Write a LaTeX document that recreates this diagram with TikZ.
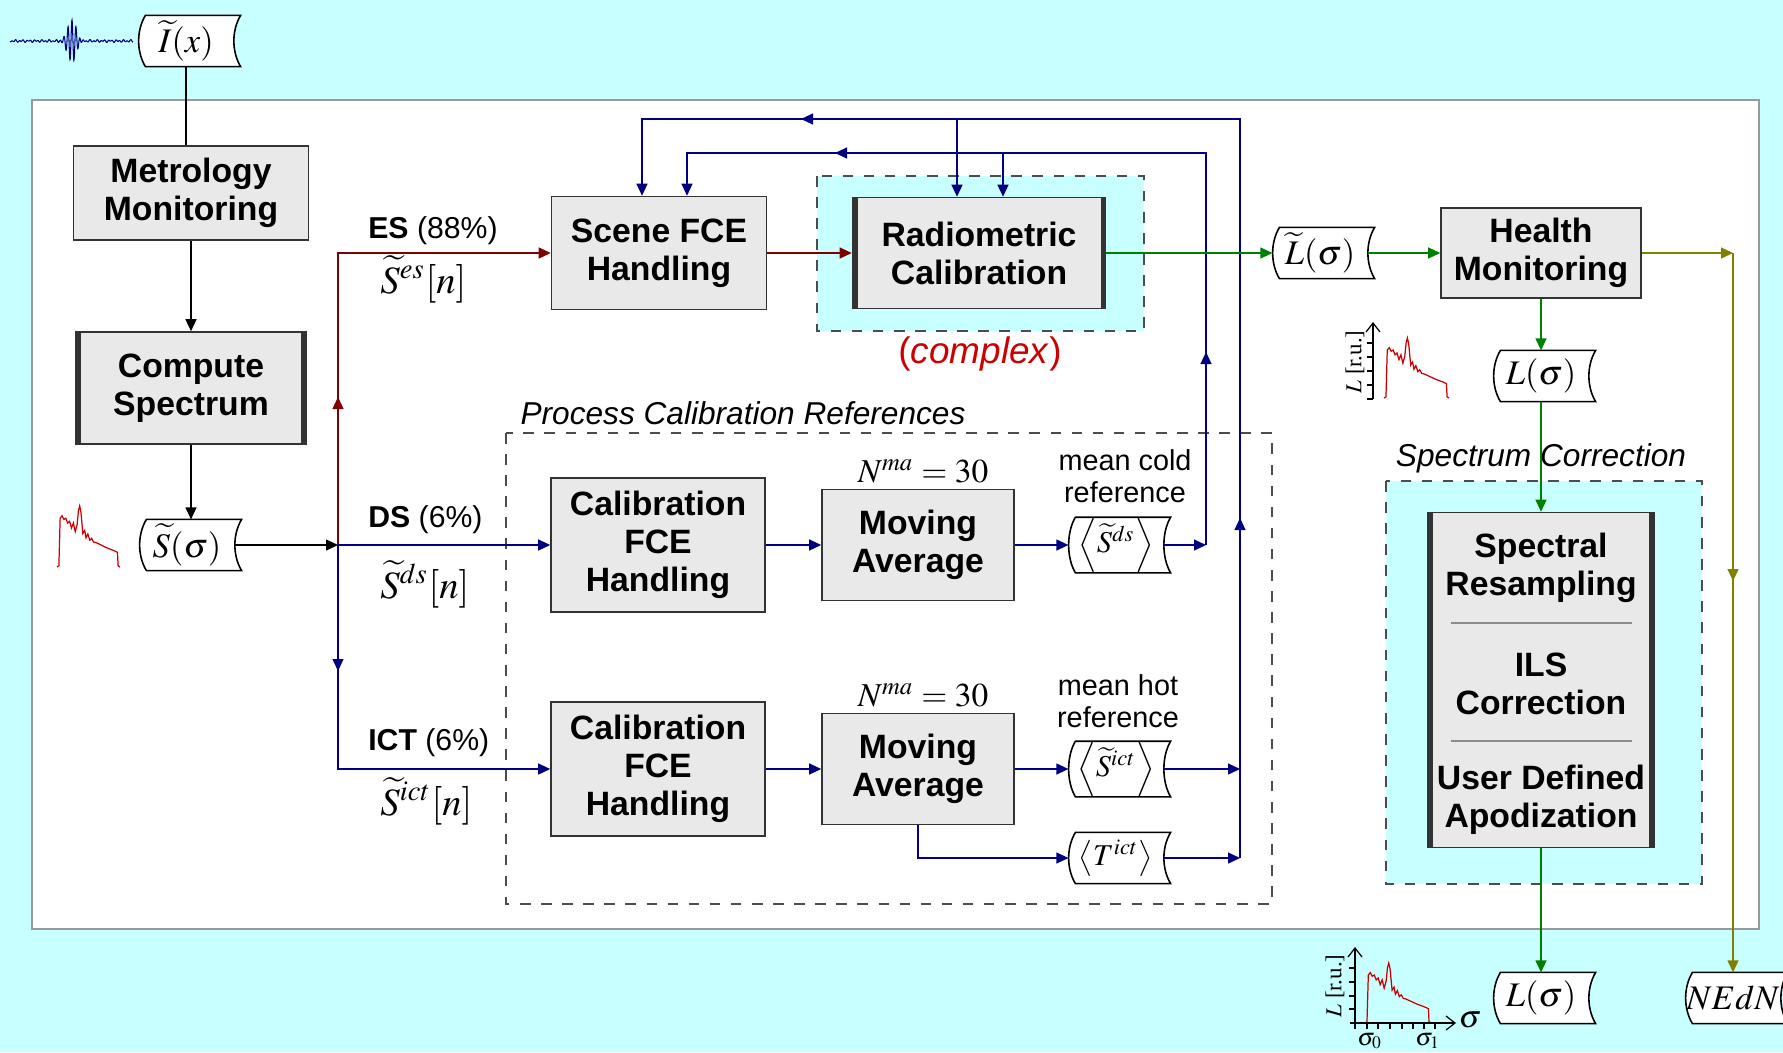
\documentclass[tikz,border=0pt]{standalone}
\usepackage{mathptmx}
\usepackage[no-math]{fontspec}
\setmainfont{Liberation Sans}
\newfontfamily\tnr{Liberation Serif}
\usetikzlibrary{arrows.meta, calc, backgrounds, decorations.markings}
\definecolor{cbg}{HTML}{C8FFFF}
\definecolor{cbox}{HTML}{E9E9E9}
\definecolor{cred}{HTML}{800000}
\definecolor{cblue}{HTML}{000080}
\definecolor{cgreen}{HTML}{008000}
\definecolor{colive}{HTML}{808000}
\definecolor{cspec}{HTML}{CC0000}
\tikzset{
  every picture/.style={x=0.1mm, y=-0.1mm, line width=0.35pt},
  box/.style={draw=black!80, fill=cbox, line width=0.45pt, align=center, inner sep=0pt, font=\fontsize{9.6}{10.8}\selectfont\bfseries},
  heavy/.style={box, path picture={\draw[line width=1mm] (path picture bounding box.north west) -- (path picture bounding box.south west) (path picture bounding box.north east) -- (path picture bounding box.south east);}},
  store/.style={inner sep=0pt, minimum width=9.4mm, minimum height=5mm, font=\fontsize{9.8}{11}\selectfont},
  mean/.style={store, font=\fontsize{8.6}{10}\selectfont},
  grp/.style={draw=black!70, dashed, line width=0.4pt},
  arr/.style={-{Triangle[length=1.2mm, width=1.1mm]}},
  wire/.style={color=#1, arr},
  midarrow/.style={postaction={decorate, decoration={markings, mark=at position #1 with {\arrow{Triangle[length=1.2mm, width=1.1mm]}}}}},
  lbl/.style={font=\fontsize{8.6}{10}\selectfont},
  mlbl/.style={font=\fontsize{11}{13}\selectfont},
  note/.style={font=\fontsize{8.2}{9.1}\selectfont, align=center},
  heading/.style={font=\fontsize{9}{11}\selectfont\itshape},
  specline/.style={draw=cspec, line width=0.35pt},
  axis/.style={line width=0.35pt},
}

\begin{document}
\begin{tikzpicture}
  \useasboundingbox (0,0) rectangle (1783,1052);
  % stored data shape: #1 name, #2 position, #3 content, optional style
  \newcommand{\store}[4][store]{%
    \node[#1] (#2) at (#3) {#4};
    \begin{scope}[on background layer]
      \draw[fill=white, line width=0.45pt] ($(#2.north west)+(7,0)$) -- ($(#2.north east)+(7,0)$)
        .. controls ($(#2.north east)+(-2,15)$) and ($(#2.south east)+(-2,-15)$) .. ($(#2.south east)+(7,0)$)
        -- ($(#2.south west)+(7,0)$)
        .. controls ($(#2.south west)+(-2,-15)$) and ($(#2.north west)+(-2,15)$) .. cycle;
    \end{scope}
  }
  % small red spectrum: #1 origin, #2 width, #3 height
  \newcommand{\spectrum}[3]{%
    \draw[specline, shift={(#1)}, xscale=#2, yscale=-#3] plot coordinates {(0,0) (0.03,0.02) (0.05,0.8) (0.08,0.84) (0.11,0.78) (0.14,0.8) (0.17,0.72) (0.2,0.75) (0.23,0.64) (0.26,0.72) (0.29,0.58) (0.32,0.7) (0.34,0.92) (0.36,1) (0.38,0.9) (0.41,0.55) (0.44,0.6) (0.46,0.48) (0.49,0.54) (0.52,0.44) (0.55,0.47) (0.58,0.41) (0.62,0.4) (0.7,0.36) (0.8,0.31) (0.9,0.27) (0.96,0.24) (0.97,0.02) (1,0)};
  }

  \begin{scope}[on background layer]
    \fill[cbg] (0,0) rectangle (1783,1052);
    \draw[draw=black!40, fill=white] (32,100) rectangle (1759,929);
    \draw[grp, fill=cbg] (817,176) rectangle (1144,331);
    \draw[grp, fill=cbg] (1386,481) rectangle (1702,884);
    \draw[grp] (506,433) rectangle (1272,904);
  \end{scope}

  % processing blocks
  \node[box, minimum width=23.5mm, minimum height=9.4mm] (metro) at (191,193) {Metrology\\Monitoring};
  \node[heavy, minimum width=23mm, minimum height=11.2mm] (comp) at (191,388) {Compute\\Spectrum};
  \node[box, minimum width=21.5mm, minimum height=11.3mm] (scene) at (659,253) {Scene FCE\\Handling};
  \node[heavy, minimum width=25.3mm, minimum height=11.1mm] (radio) at (979,253) {Radiometric\\Calibration};
  \node[box, minimum width=21.4mm, minimum height=13.4mm] (cfce1) at (658,545) {Calibration\\FCE\\Handling};
  \node[box, minimum width=19.2mm, minimum height=11.1mm] (ma1) at (918,545) {Moving\\Average};
  \node[box, minimum width=21.4mm, minimum height=13.4mm] (cfce2) at (658,769) {Calibration\\FCE\\Handling};
  \node[box, minimum width=19.2mm, minimum height=11.1mm] (ma2) at (918,769) {Moving\\Average};
  \node[box, minimum width=20mm, minimum height=9mm] (hm) at (1541,253) {Health\\Monitoring};
  \node[heavy, minimum width=22.6mm, minimum height=33.5mm] (corr) at (1541,680) {};
  \node[box, draw=none, fill=none] (resamp) at (1541,568) {Spectral\\Resampling};
  \node[box, draw=none, fill=none] (ils) at (1541,684) {ILS\\Correction};
  \node[box, draw=none, fill=none] (apod) at (1541,800) {User Defined\\Apodization};
  \foreach \y in {623,741}
    \draw[black!45, line width=0.5pt] (1451,\y) -- (1632,\y);

  % data products
  \store{itx}{186,41}{$\widetilde{I}(x)$}
  \store{ssig}{187,545}{$\widetilde{S}(\sigma)$}
  \store[mean]{sds}{1116,545}{$\left\langle\widetilde{S}^{ds}\right\rangle$}
  \store[mean]{sict}{1116,769}{$\left\langle\widetilde{S}^{ict}\right\rangle$}
  \store[mean]{tict}{1116,858}{$\left\langle T^{ict}\right\rangle$}
  \store{ltil}{1320,253}{$\widetilde{L}(\sigma)$}
  \store{lsig}{1541,376}{$L(\sigma)$}
  \store{lout}{1541,998}{$L(\sigma)$}
  \store{nedn}{1733,998}{$NEdN$}

  % texts
  \node[lbl, anchor=west] (esl) at (356,231) {\textbf{ES} (88\%)};
  \node[mlbl, anchor=base west] (esn) at (368,293) {$\widetilde{S}^{es}[n]$};
  \node[lbl, anchor=west] (dsl) at (356,520) {\textbf{DS} (6\%)};
  \node[mlbl, anchor=base west] (dsn) at (368,598) {$\widetilde{S}^{ds}[n]$};
  \node[lbl, anchor=west] (ictl) at (356,743) {\textbf{ICT} (6\%)};
  \node[mlbl, anchor=base west] (ictn) at (368,815) {$\widetilde{S}^{ict}[n]$};
  \node[font=\fontsize{9.5}{11}\selectfont] (nma1) at (923,471) {$N^{ma}=30$};
  \node[font=\fontsize{9.5}{11}\selectfont] (nma2) at (923,695) {$N^{ma}=30$};
  \node[note] (cold) at (1125,476) {mean cold\\reference};
  \node[note] (hot) at (1118,701) {mean hot\\reference};
  \node[font=\fontsize{10.5}{12}\selectfont, text=cspec] (cplx) at (980,354) {(\textit{complex})};
  \node[heading] (pcr) at (743,413) {Process Calibration References};
  \node[heading] (scl) at (1541,458) {Spectrum Correction};

  % turning points
  \coordinate (junc) at (338,545);
  \coordinate (inner) at (1206,153);
  \coordinate (outer) at (1240,119);
  \coordinate (sin) at ($(scene.north)+(28,0)$);
  \coordinate (sout) at ($(scene.north)+(-17,0)$);
  \coordinate (rin) at ($(radio.north)+(24,0)$);
  \coordinate (rout) at ($(radio.north)+(-22,0)$);
  \coordinate (nturn) at (hm.east -| nedn.north);

  % signal chain
  \draw (itx.south) -- (itx.south |- metro.north);
  \draw[wire=black] (metro.south) -- (comp.north);
  \draw[wire=black] (comp.south) -- (comp.south |- ssig.north);
  \draw[wire=black] (ssig.east) -- (junc);
  \draw[wire=cred, midarrow=14.8mm] (junc) |- (scene.west);
  \draw[wire=cred] (scene.east) -- (radio.west);
  \draw[wire=cblue] (junc) -- (cfce1.west);
  \draw[wire=cblue, midarrow=12.6mm] (junc) |- (cfce2.west);
  \draw[wire=cblue] (cfce1.east) -- (ma1.west);
  \draw[wire=cblue] (ma1.east) -- (sds.west);
  \draw[wire=cblue] (cfce2.east) -- (ma2.west);
  \draw[wire=cblue] (ma2.east) -- (sict.west);
  \draw[wire=cblue] (ma2.south) |- (tict.west);
  % calibration feedback
  \draw[wire=cblue] (sds.east) -- (sds.east -| inner);
  \draw[wire=cblue, midarrow=19.3mm, midarrow=76.3mm] (sds.east -| inner) -- (inner) -| (sin);
  \draw[wire=cblue] (rin |- inner) -- (rin);
  \draw[wire=cblue] (sict.east) -- (sict.east -| outer);
  \draw[wire=cblue] (tict.east) -- (tict.east -| outer);
  \draw[wire=cblue, midarrow=34mm, midarrow=117.8mm] (tict.east -| outer) -- (outer) -| (sout);
  \draw[wire=cblue] (rout |- outer) -- (rout);
  % outputs
  \draw[wire=cgreen] (radio.east) -- (ltil.west);
  \draw[wire=cgreen] (ltil.east) -- (hm.west);
  \draw[wire=cgreen] (hm.south) -- (lsig.north);
  \draw[wire=cgreen] (lsig.south) -- (corr.north);
  \draw[wire=cgreen] (corr.south) -- (lout.north);
  \draw[wire=colive] (hm.east) -- (nturn);
  \draw[wire=colive, midarrow=32.8mm] (nturn) -- (nedn.north);

  % interferogram
  \draw[cblue, line width=0.3pt] plot[domain=10:133, samples=600]
    (\x, {41 - 21*exp(-((\x-72)/6)*((\x-72)/6))*cos(\x*90) - 0.8*sin(\x*97) - 0.6*sin(\x*53)});
  % spectra
  \spectrum{57,567}{63}{61}
  \spectrum{1384,398}{65}{60}
  \spectrum{1365,1023}{66}{60}
  % axes of the small plots
  \draw[axis, -{Straight Barb[length=0.9mm, width=1.4mm]}] (1373,399) -- (1373,322);
  \foreach \y in {343,357,371,385,399}
    \draw[axis] (1367,\y) -- (1373,\y);
  \node[rotate=90, font=\tnr\fontsize{6.5}{8}\selectfont] (lax1) at (1355,362) {$L$ [r.u.]};
  \draw[axis, -{Straight Barb[length=0.9mm, width=1.4mm]}] (1355,1023) -- (1355,947);
  \draw[axis, -{Straight Barb[length=0.9mm, width=1.4mm]}] (1350,1023) -- (1456,1023);
  \foreach \y in {968,982,996,1009}
    \draw[axis] (1349,\y) -- (1355,\y);
  \foreach \x in {1355,1367,1378,1390,1402,1413,1424,1435}
    \draw[axis] (\x,1023) -- (\x,1029);
  \node[rotate=90, font=\tnr\fontsize{6.5}{8}\selectfont] (lax2) at (1335,986) {$L$ [r.u.]};
  \node[font=\fontsize{9}{10}\selectfont] (sgx) at (1470,1020) {$\sigma$};
  \node[font=\fontsize{7}{8}\selectfont, inner sep=0pt] (sg0) at (1370,1041) {$\sigma_0$};
  \node[font=\fontsize{7}{8}\selectfont, inner sep=0pt] (sg1) at (1428,1041) {$\sigma_1$};
\end{tikzpicture}
\end{document}
